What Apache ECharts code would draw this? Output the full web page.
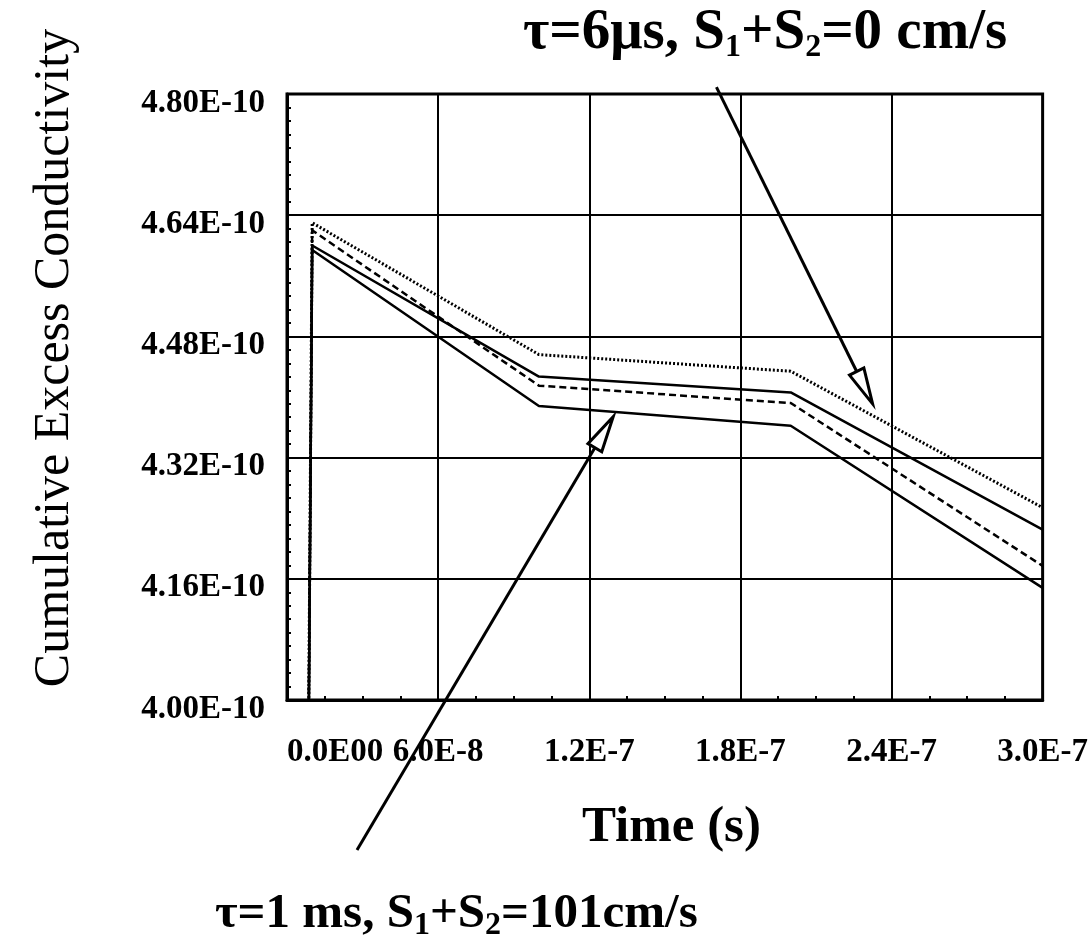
<!DOCTYPE html>
<html>
<head>
<meta charset="utf-8">
<script src="https://cdn.jsdelivr.net/npm/echarts@6/dist/echarts.min.js"></script>
<style>
  html, body { margin: 0; padding: 0; background: #fff; }
  #chart { width: 1091px; height: 945px; }
</style>
</head>
<body>
<div id="chart"></div>
<script>
// Time in nanoseconds, conductivity in units of 1E-10
const timeNs = [0, 10, 100, 200, 300];
const dottedCurve = [0, 4.630, 4.456, 4.434, 4.254];
const solidUpper = [0, 4.600, 4.427, 4.406, 4.225];
const dashedCurve = [0, 4.620, 4.415, 4.392, 4.177];
const solidLower = [0, 4.594, 4.388, 4.362, 4.148];

const xTickLabels = ['0.0E00', '6.0E-8', '1.2E-7', '1.8E-7', '2.4E-7', '3.0E-7'];

// Annotation arrows: [start, tip] in (ns, 1E-10) coordinates
const arrowTop = [[170.5, 4.809], [232.5, 4.391]];
const arrowBottom = [[27.8, 3.802], [129.5, 4.374]];

const SERIF = "'Liberation Serif', 'Times New Roman', serif";

function pairs(ys) {
  return timeNs.map((t, i) => [t, ys[i]]);
}

function lineSeries(ys, type, width) {
  return {
    type: 'line',
    data: pairs(ys),
    symbol: 'none',
    clip: true,
    animation: false,
    lineStyle: { color: '#000', width: width, type: type }
  };
}

const chart = echarts.init(document.getElementById('chart'), null, { renderer: 'canvas' });

chart.setOption({
  backgroundColor: '#fff',
  animation: false,
  grid: {
    left: 287, right: 47, top: 94, bottom: 245,
    show: true, borderColor: '#000', borderWidth: 3
  },
  xAxis: {
    type: 'value', min: 0, max: 300, interval: 60,
    axisLine: { lineStyle: { color: '#000', width: 3 } },
    axisTick: { show: true, inside: true, length: 0 },
    minorTick: { show: true, splitNumber: 4, length: 4, lineStyle: { color: '#000', width: 2 } },
    splitLine: { show: true, lineStyle: { color: '#000', width: 2 } },
    axisLabel: {
      color: '#000', fontFamily: SERIF, fontWeight: 'bold', fontSize: 33, margin: 36,
      showMinLabel: true, showMaxLabel: true, alignMinLabel: 'left',
      formatter: function (v) { return xTickLabels[Math.round(v / 60)]; }
    }
  },
  yAxis: {
    type: 'value', min: 4.0, max: 4.8, interval: 0.16,
    axisLine: { show: true, lineStyle: { color: '#000', width: 3 } },
    axisTick: { show: true, inside: true, length: 0 },
    minorTick: { show: true, splitNumber: 9, length: 4, lineStyle: { color: '#000', width: 2 } },
    splitLine: { show: true, lineStyle: { color: '#000', width: 2 } },
    axisLabel: {
      color: '#000', fontFamily: SERIF, fontWeight: 'bold', fontSize: 33, margin: 22,
      formatter: function (v) { return '{v|' + v.toFixed(2) + 'E-10}'; },
      rich: {
        v: { fontFamily: SERIF, fontWeight: 'bold', fontSize: 33, color: '#000', padding: [18, 0, 0, 0] }
      }
    }
  },
  series: [
    lineSeries(dottedCurve, [2, 2], 3),
    lineSeries(solidUpper, 'solid', 2.5),
    lineSeries(dashedCurve, [7, 4], 2.5),
    lineSeries(solidLower, 'solid', 2.5)
  ]
});

// Arrow with an open triangular head, placed through the grid's coordinate system
function arrowGraphics(arrow) {
  const p0 = chart.convertToPixel({ gridIndex: 0 }, arrow[0]);
  const p1 = chart.convertToPixel({ gridIndex: 0 }, arrow[1]);
  const dx = p1[0] - p0[0], dy = p1[1] - p0[1];
  const len = Math.sqrt(dx * dx + dy * dy);
  const ux = dx / len, uy = dy / len;
  const headLen = 36, headHalf = 8;
  const bx = p1[0] - ux * headLen, by = p1[1] - uy * headLen;
  const nx = -uy, ny = ux;
  return [
    {
      type: 'line', z: 100,
      shape: { x1: p0[0], y1: p0[1], x2: bx, y2: by },
      style: { stroke: '#000', lineWidth: 3 }
    },
    {
      type: 'polygon', z: 101,
      shape: { points: [[p1[0], p1[1]], [bx + nx * headHalf, by + ny * headHalf], [bx - nx * headHalf, by - ny * headHalf]] },
      style: { fill: '#fff', stroke: '#000', lineWidth: 3, lineJoin: 'miter' }
    }
  ];
}

const subRich = {
  sub: { fontFamily: SERIF, fontWeight: 'bold', fontSize: 32, lineHeight: 32, verticalAlign: 'bottom' }
};

chart.setOption({
  graphic: [
    ...arrowGraphics(arrowTop),
    ...arrowGraphics(arrowBottom),
    {
      type: 'text', left: 523, top: 2, z: 110,
      style: {
        text: 'τ=6μs, S{sub|1}+S{sub|2}=0 cm/s',
        fontFamily: SERIF, fontWeight: 'bold', fontSize: 57, lineHeight: 62,
        fill: '#000', rich: subRich
      }
    },
    {
      type: 'text', left: 215, top: 886, z: 110,
      style: {
        text: 'τ=1 ms, S{sub|1}+S{sub|2}=101cm/s',
        fontFamily: SERIF, fontWeight: 'bold', fontSize: 49, lineHeight: 56,
        fill: '#000', rich: subRich
      }
    },
    {
      type: 'text', left: 582, top: 802, z: 110,
      style: {
        text: 'Time (s)',
        fontFamily: SERIF, fontWeight: 'bold', fontSize: 51, fill: '#000'
      }
    },
    {
      type: 'text', x: 55, y: 358, rotation: Math.PI / 2, z: 110,
      style: {
        text: 'Cumulative Excess Conductivity',
        fontFamily: SERIF, fontSize: 50, fill: '#000',
        align: 'center', verticalAlign: 'middle'
      }
    }
  ]
});
</script>
</body>
</html>
